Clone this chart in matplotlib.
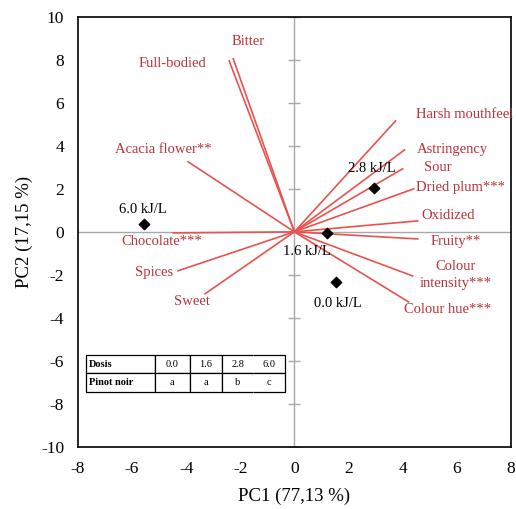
import numpy as np
import matplotlib.pyplot as plt

plt.rcParams['font.family'] = ['Liberation Serif', 'DejaVu Serif']
plt.rcParams['axes.unicode_minus'] = False

# loadings (attributes)
attr_names = ['Bitter', 'Full-bodied', 'Acacia flower**', 'Chocolate***', 'Spices', 'Sweet',
              'Harsh mouthfeel', 'Astringency', 'Sour', 'Dried plum***', 'Oxidized', 'Fruity**',
              'Colour\nintensity***', 'Colour hue***']
attr_x = [-2.26, -2.41, -3.93, -4.48, -4.30, -3.30, 3.74, 4.07, 4.00, 4.41, 4.56, 4.56, 4.37, 4.22]
attr_y = [8.05, 7.95, 3.26, -0.05, -1.81, -2.88, 5.16, 3.81, 2.93, 2.00, 0.51, -0.33, -2.05, -3.26]
# label positions
lab_x = [-1.7, -4.5, -4.85, -4.9, -5.2, -3.8, 6.3, 5.85, 5.3, 6.15, 5.7, 5.95, 5.95, 5.65]
lab_y = [8.85, 7.85, 3.85, -0.45, -1.9, -3.25, 5.45, 3.85, 3.0, 2.05, 0.75, -0.45, -2.0, -3.6]

# scores (doses)
dose_labels = ['0.0 kJ/L', '1.6 kJ/L', '2.8 kJ/L', '6.0 kJ/L']
dose_x = [1.55, 1.19, 2.96, -5.56]
dose_y = [-2.33, -0.05, 2.05, 0.37]
dose_lx = [1.6, 0.45, 2.85, -5.6]
dose_ly = [-3.35, -0.9, 2.95, 1.05]

table_rows = [['Dosis', '0.0', '1.6', '2.8', '6.0'],
              ['Pinot noir', 'a', 'a', 'b', 'c']]

line_c = '#e8534f'
text_c = '#b8323a'

fig = plt.figure(figsize=(5.16, 5.09), dpi=100)
ax = fig.add_axes([0.151, 0.122, 0.839, 0.845])
ax.set_xlim(-8, 8)
ax.set_ylim(-10, 10)

ax.axhline(0, color='#a8a8a8', lw=1, zorder=1)
ax.axvline(0, color='#a8a8a8', lw=1, zorder=1)
tx = np.arange(-8, 9, 2)
ty = np.arange(-10, 11, 2)
ax.plot(np.zeros_like(ty), ty, ls='none', marker='_', ms=8, mew=1, color='#a8a8a8', zorder=1)

for x, y in zip(attr_x, attr_y):
    ax.plot([0, x], [0, y], color=line_c, lw=1.2, zorder=2)
for name, x, y in zip(attr_names, lab_x, lab_y):
    ax.text(x, y, name, color=text_c, fontsize=10.5, ha='center', va='center',
            linespacing=1.4)

ax.scatter(dose_x, dose_y, marker='D', s=28, color='black', zorder=4)
for lab, x, y in zip(dose_labels, dose_lx, dose_ly):
    ax.text(x, y, lab, fontsize=10.5, ha='center', va='center', color='black')

tb = ax.table(cellText=table_rows, cellLoc='center',
              colWidths=[0.347, 0.175, 0.162, 0.158, 0.158],
              bbox=[0.018, 0.128, 0.46, 0.086])
tb.auto_set_font_size(False)
for (r, c), cell in tb.get_celld().items():
    cell.set_linewidth(0.9)
    cell.get_text().set_fontsize(7.5)
    if c == 0:
        cell.get_text().set_fontweight('bold')
        cell.get_text().set_ha('left')
        cell.PAD = 0.05
    if c == 3:
        cell.visible_edges = 'TBL'
    if c == 4:
        cell.visible_edges = 'TBR'

ax.set_xticks(tx)
ax.set_yticks(ty)
ax.tick_params(length=0, labelsize=12.5, pad=10)
for s in ax.spines.values():
    s.set_linewidth(1.2)
ax.set_xlabel('PC1 (77,13 %)', fontsize=13.5, labelpad=8)
ax.set_ylabel('PC2 (17,15 %)', fontsize=13.5, labelpad=6)

fig.savefig('out.png', dpi=100)
